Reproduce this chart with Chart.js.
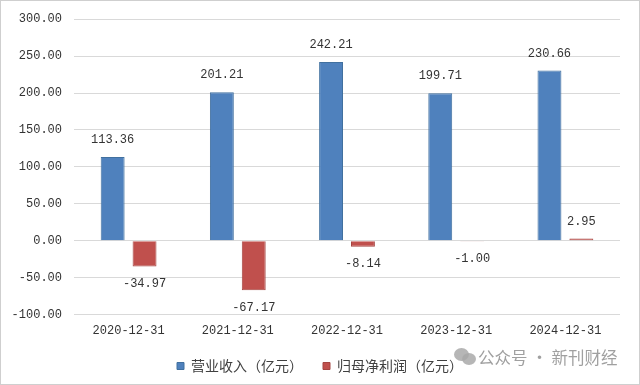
<!DOCTYPE html>
<html>
<head>
<meta charset="utf-8">
<script src="https://cdn.jsdelivr.net/npm/chart.js@4"></script>
<style>
    html, body { margin: 0; padding: 0; background: #fff; }
    #wrap { position: relative; width: 640px; height: 385px; }
    #frame { position: absolute; left: 0; top: 0; width: 638px; height: 383px; border: 1px solid #cfcfcf; pointer-events: none; }
    #mark { position: absolute; left: 478px; top: 345px; font: 16.5px "Noto Sans CJK SC", sans-serif; color: #a0a0a0; white-space: nowrap; }
    .bub { position: absolute; border-radius: 50%; background: #a9a9a9; opacity: 0.85; }
</style>
</head>
<body>
<div id="wrap">
    <canvas id="finChart" width="640" height="385"></canvas>
    <div class="bub" style="left:454px;top:348px;width:15px;height:13px;"></div>
    <div class="bub" style="left:462px;top:353px;width:14px;height:12px;"></div>
    <div id="mark">公众号 · 新刊财经</div>
    <div id="frame"></div>
</div>
<script>
const categories = ["2020-12-31", "2021-12-31", "2022-12-31", "2023-12-31", "2024-12-31"];
const revenue = [113.36, 201.21, 242.21, 199.71, 230.66];
const netProfit = [-34.97, -67.17, -8.14, -1.00, 2.95];
const seriesNames = ["营业收入（亿元）", "归母净利润（亿元）"];
const yTicks = [-100, -50, 0, 50, 100, 150, 200, 250, 300];

const numFont = "Liberation Mono";

// value labels above / below each bar
const valueLabels = {
    id: "valueLabels",
    afterDatasetsDraw(chart) {
        const ctx = chart.ctx;
        ctx.save();
        ctx.font = "12px " + numFont;
        ctx.fillStyle = "#333";
        ctx.textAlign = "center";
        ctx.textBaseline = "middle";
        chart.data.datasets.forEach(function (ds, i) {
            chart.getDatasetMeta(i).data.forEach(function (bar, j) {
                const v = ds.data[j];
                const y = v >= 0 ? bar.y - 17 : bar.y + 17;
                ctx.fillText(v.toFixed(2), bar.x, y);
            });
        });
        ctx.restore();
    }
};

const ctx = document.getElementById("finChart").getContext("2d");
new Chart(ctx, {
    type: "bar",
    data: {
        labels: categories,
        datasets: [
            {
                label: seriesNames[0],
                data: revenue,
                backgroundColor: "#4f81bd",
                borderColor: "#41709f",
                borderWidth: 1
            },
            {
                label: seriesNames[1],
                data: netProfit,
                backgroundColor: "#c0504d",
                borderColor: "#a54542",
                borderWidth: 1
            }
        ]
    },
    options: {
        responsive: false,
        animation: false,
        devicePixelRatio: 1,
        layout: { padding: { top: 18, right: 0, bottom: 2, left: 0 } },
        datasets: {
            bar: { categoryPercentage: 0.584, barPercentage: 0.75 }
        },
        scales: {
            x: {
                grid: { display: false },
                border: { display: false },
                ticks: {
                    font: { family: numFont, size: 12 },
                    color: "#333",
                    maxRotation: 0,
                    padding: 1
                }
            },
            y: {
                min: yTicks[0],
                max: yTicks[yTicks.length - 1],
                afterFit: function (s) { s.width = 74; },
                afterBuildTicks: function (s) { s.ticks = yTicks.map(v => ({ value: v })); },
                grid: { color: "#d9d9d9", lineWidth: 1, drawTicks: false },
                border: { display: false },
                ticks: {
                    font: { family: numFont, size: 12 },
                    color: "#333",
                    padding: 12,
                    callback: v => v.toFixed(2)
                }
            },
            // empty right-hand spacer so the legend stays centred on the page
            spacer: {
                type: "linear",
                position: "right",
                display: true,
                afterFit: function (s) { s.width = 20; },
                grid: { display: false },
                border: { display: false },
                ticks: { display: false }
            }
        },
        plugins: {
            legend: {
                position: "bottom",
                labels: {
                    boxWidth: 7,
                    boxHeight: 7,
                    padding: 20,
                    color: "#404040",
                    font: { family: "Noto Sans CJK SC", size: 14 }
                }
            },
            tooltip: { enabled: false }
        }
    },
    plugins: [valueLabels]
});
</script>
</body>
</html>
